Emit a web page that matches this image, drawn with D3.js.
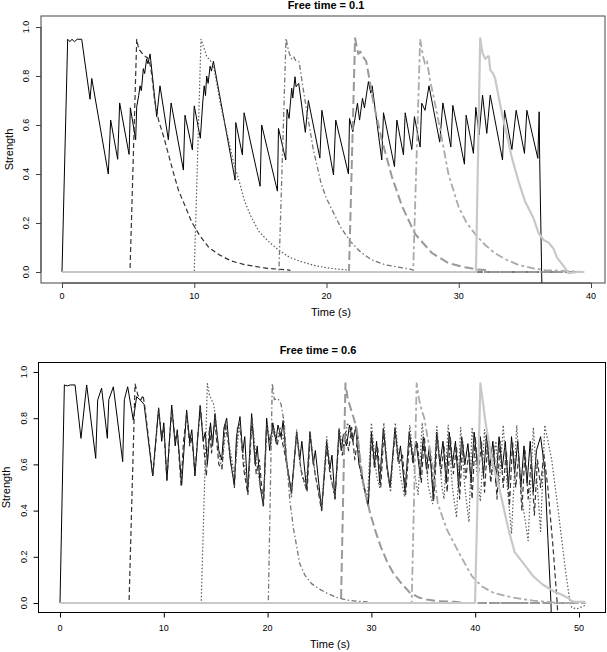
<!DOCTYPE html>
<html><head><meta charset="utf-8">
<script src="https://cdn.jsdelivr.net/npm/d3@7"></script>
<style>body{margin:0;background:#fff}svg{display:block}text{font-family:"Liberation Sans",Arial,Helvetica,sans-serif;fill:#000}</style>
</head><body>
<script>
// ---------------- DATA ----------------
const titles = ["Free time = 0.1", "Free time = 0.6"];
const xLabel = "Time (s)";
const yLabel = "Strength";
const topXTicks = [0, 10, 20, 30, 40];
const botXTicks = [0, 10, 20, 30, 40, 50];
const yTicks = [0, 0.2, 0.4, 0.6, 0.8, 1.0];

// Top panel (free time = 0.1): [time, strength]
const top_s1 = [[0,0],[0.43,0.95],[0.6,0.94],[0.75,0.95],[0.95,0.94],[1.15,0.95],[1.49,0.95],[2.12,0.705],[2.25,0.79],[3.5,0.40],[3.68,0.62],[4.21,0.46],[4.36,0.69],[5.07,0.48],[5.17,0.67],[5.57,0.54],[5.65,0.675],[5.8,0.72],[5.9,0.76],[6.0,0.74],[6.15,0.83],[6.25,0.81],[6.4,0.87],[6.5,0.85],[6.66,0.89],[7.16,0.634],[7.41,0.76],[8.04,0.54],[8.25,0.69],[9.18,0.416],[9.3,0.64],[9.86,0.498],[10.0,0.678],[10.46,0.546],[10.64,0.69],[10.75,0.76],[10.85,0.72],[10.94,0.80],[11.05,0.77],[11.2,0.84],[11.3,0.82],[11.45,0.86],[13.09,0.375],[13.14,0.61],[13.64,0.478],[13.77,0.65],[14.98,0.35],[15.1,0.60],[16.29,0.33],[16.37,0.586],[16.92,0.457],[17.02,0.664],[17.17,0.627],[17.37,0.75],[17.45,0.71],[17.62,0.797],[17.7,0.756],[17.9,0.77],[18.4,0.57],[18.63,0.70],[19.5,0.465],[19.65,0.66],[20.53,0.396],[20.7,0.62],[21.66,0.40],[21.74,0.627],[21.99,0.573],[22.34,0.689],[22.5,0.62],[22.72,0.709],[22.87,0.67],[23.17,0.777],[23.35,0.73],[23.45,0.76],[24.18,0.457],[24.31,0.65],[25.14,0.43],[25.32,0.62],[25.82,0.478],[25.95,0.65],[26.45,0.50],[26.65,0.634],[27.08,0.51],[27.2,0.689],[27.45,0.66],[27.75,0.76],[28.56,0.53],[28.8,0.69],[29.4,0.51],[29.55,0.68],[30.43,0.44],[30.56,0.64],[31.11,0.484],[31.29,0.672],[31.54,0.56],[31.8,0.722],[32.12,0.566],[32.38,0.722],[33.31,0.457],[33.46,0.66],[34.02,0.50],[34.34,0.66],[34.97,0.484],[35.15,0.66],[35.98,0.464],[36.08,0.654],[36.12,0.46],[36.3,-0.1]];
const top_s2 = [[0,0],[5.14,0],[5.65,0.95],[5.8,0.91],[5.95,0.90],[6.1,0.89],[6.3,0.88],[6.45,0.875],[6.6,0.865],[6.8,0.80],[7.0,0.70],[7.3,0.62],[7.7,0.55],[8.0,0.49],[8.4,0.41],[8.8,0.335],[9.3,0.27],[9.8,0.205],[10.4,0.15],[11.1,0.10],[11.9,0.07],[12.8,0.045],[13.8,0.03],[15.5,0.015],[17.2,0.008],[17.3,0],[39.4,0]];
const top_s3 = [[0,0],[10.0,0],[10.51,0.95],[10.7,0.92],[10.94,0.88],[11.1,0.87],[11.25,0.86],[11.45,0.845],[11.6,0.80],[12.0,0.68],[12.46,0.57],[12.96,0.45],[13.4,0.37],[13.8,0.29],[14.3,0.225],[14.9,0.165],[15.6,0.125],[16.3,0.093],[17.2,0.06],[18.1,0.042],[19.0,0.028],[19.9,0.018],[20.8,0.012],[21.7,0.008],[21.8,0],[39.4,0]];
const top_s4 = [[0,0],[16.4,0],[16.94,0.954],[17.1,0.91],[17.2,0.89],[17.35,0.87],[17.5,0.88],[17.7,0.86],[17.93,0.858],[18.2,0.76],[18.5,0.66],[19.0,0.50],[19.6,0.36],[20.0,0.30],[20.5,0.245],[21.1,0.18],[21.8,0.125],[22.6,0.08],[23.4,0.05],[24.4,0.03],[25.4,0.02],[26.5,0.01],[26.6,0],[39.4,0]];
const top_s5 = [[0,0],[21.7,0],[22.16,0.954],[22.4,0.89],[22.55,0.90],[22.75,0.88],[23.0,0.86],[23.17,0.81],[23.55,0.69],[24.18,0.54],[24.94,0.39],[25.7,0.27],[26.7,0.155],[27.96,0.078],[29.22,0.036],[30.48,0.019],[31.4,0.01],[32.0,0.008],[32.1,0],[39.4,0]];
const top_s6 = [[0,0],[26.55,0],[27.08,0.95],[27.3,0.88],[27.45,0.85],[27.6,0.86],[27.84,0.78],[28.1,0.716],[28.6,0.58],[29.22,0.40],[29.98,0.267],[30.6,0.20],[31.24,0.155],[32.0,0.11],[32.75,0.076],[33.6,0.05],[34.52,0.029],[35.65,0.015],[36.5,0.008],[38.5,0.003],[39.4,0]];
const top_s7 = [[0,0],[31.3,0],[31.62,0.954],[31.8,0.893],[32.0,0.87],[32.2,0.88],[32.28,0.88],[32.38,0.824],[32.6,0.81],[32.75,0.79],[33.0,0.72],[33.26,0.648],[33.64,0.56],[34.0,0.47],[34.52,0.37],[35.0,0.29],[35.65,0.22],[36.03,0.16],[36.41,0.131],[36.8,0.12],[37.17,0.095],[37.42,0.06],[37.92,0.025],[38.3,-0.005],[38.6,-0.003],[39.0,0],[39.5,0]];

// Bottom panel (free time = 0.6): [time, strength]
const bot_s1 = [[0,0],[0.42,0.944],[0.7,0.94],[1.0,0.944],[1.45,0.944],[2.02,0.713],[2.57,0.944],[3.44,0.626],[3.63,0.879],[4.01,0.93],[4.56,0.713],[4.7,0.88],[5.14,0.936],[6.04,0.612],[6.2,0.88],[6.52,0.936],[7.06,0.792],[7.38,0.893],[7.7,0.88],[7.9,0.87],[8.1,0.86],[8.93,0.55],[9.5,0.845],[9.8,0.70],[10.0,0.78],[10.3,0.53],[10.76,0.857],[11.1,0.68],[11.3,0.75],[11.72,0.51],[12.2,0.835],[12.5,0.70],[12.7,0.75],[13.0,0.55],[13.5,0.855],[13.8,0.70],[14.0,0.74],[14.2,0.60],[14.5,0.78],[14.7,0.68],[14.93,0.82],[15.3,0.66],[15.58,0.62],[15.8,0.76],[16.06,0.80],[16.4,0.62],[16.8,0.51],[17.0,0.72],[17.34,0.807],[17.6,0.65],[17.8,0.72],[18.08,0.48],[18.46,0.82],[18.8,0.60],[19.0,0.68],[19.3,0.50],[19.59,0.42],[19.91,0.80],[20.2,0.66],[20.5,0.78],[20.8,0.70],[21.0,0.77],[21.3,0.72],[21.5,0.79],[21.8,0.62],[22.3,0.475],[22.8,0.742],[23.1,0.62],[23.3,0.70],[23.76,0.49],[24.08,0.742],[24.4,0.60],[24.6,0.66],[25.21,0.40],[25.69,0.70],[26.0,0.58],[26.2,0.64],[26.49,0.45],[26.88,0.75],[27.1,0.66],[27.3,0.73],[27.6,0.68],[27.9,0.77],[28.2,0.70],[28.5,0.76],[28.8,0.60],[29.1,0.55],[29.7,0.42],[30.0,0.74],[30.3,0.60],[30.5,0.70],[30.8,0.52],[31.15,0.756],[31.5,0.60],[31.8,0.50],[32.27,0.756],[32.6,0.62],[32.8,0.68],[33.24,0.48],[33.65,0.742],[34.0,0.62],[34.3,0.70],[34.7,0.55],[35.0,0.72],[35.3,0.58],[35.6,0.68],[35.96,0.45],[36.3,0.74],[36.6,0.60],[36.9,0.70],[37.2,0.52],[37.5,0.74],[37.8,0.60],[38.1,0.70],[38.4,0.50],[38.7,0.72],[39.0,0.60],[39.3,0.69],[39.6,0.52],[39.9,0.74],[40.2,0.60],[40.5,0.72],[40.8,0.55],[41.1,0.73],[41.4,0.58],[41.7,0.70],[42.0,0.52],[42.3,0.72],[42.6,0.58],[42.9,0.70],[43.2,0.50],[43.5,0.72],[43.8,0.56],[44.1,0.70],[44.4,0.50],[44.7,0.68],[45.0,0.52],[45.3,0.70],[45.6,0.48],[45.9,0.66],[46.3,0.72],[46.7,0.58],[47.0,0.28],[47.3,0.0],[47.35,-0.1]];
const bot_s2 = [[0,0],[6.65,0],[7.23,0.948],[7.5,0.90],[7.8,0.88],[8.0,0.90],[8.2,0.84],[8.95,0.55],[9.2,0.68],[9.5,0.84],[9.8,0.72],[10.0,0.76],[10.3,0.53],[10.6,0.74],[10.8,0.84],[11.1,0.70],[11.3,0.74],[11.66,0.51],[11.9,0.70],[12.2,0.82],[12.5,0.68],[12.7,0.72],[13.0,0.56],[13.3,0.74],[13.55,0.84],[13.9,0.65],[14.1,0.55],[14.4,0.76],[14.6,0.65],[14.9,0.80],[15.3,0.60],[15.6,0.58],[15.9,0.78],[16.2,0.70],[16.5,0.60],[16.8,0.50],[17.1,0.76],[17.4,0.74],[17.7,0.58],[18.1,0.47],[18.5,0.80],[18.9,0.56],[19.2,0.62],[19.6,0.42],[19.9,0.76],[20.2,0.70],[20.5,0.76],[20.9,0.68],[21.2,0.74],[21.6,0.66],[22.0,0.56],[22.3,0.48],[22.8,0.73],[23.2,0.58],[23.8,0.48],[24.1,0.72],[24.5,0.58],[25.2,0.40],[25.7,0.68],[26.0,0.56],[26.5,0.46],[26.9,0.73],[27.2,0.64],[27.5,0.74],[27.8,0.66],[28.1,0.76],[28.4,0.62],[28.7,0.72],[29.0,0.56],[29.7,0.42],[30.0,0.72],[30.3,0.58],[30.6,0.68],[30.9,0.50],[31.2,0.74],[31.5,0.58],[31.8,0.50],[32.3,0.74],[32.6,0.60],[33.0,0.64],[33.3,0.47],[33.7,0.72],[34.0,0.60],[34.4,0.70],[34.8,0.52],[35.1,0.72],[35.4,0.56],[35.7,0.66],[36.0,0.44],[36.35,0.72],[36.7,0.56],[37.0,0.68],[37.3,0.48],[37.6,0.72],[37.9,0.56],[38.2,0.68],[38.5,0.45],[38.8,0.70],[39.1,0.54],[39.4,0.66],[39.7,0.45],[40.0,0.72],[40.3,0.55],[40.6,0.70],[40.9,0.48],[41.2,0.70],[41.5,0.52],[41.8,0.68],[42.1,0.45],[42.4,0.70],[42.7,0.50],[43.0,0.66],[43.3,0.42],[43.6,0.70],[43.9,0.50],[44.2,0.64],[44.5,0.40],[44.8,0.66],[45.1,0.45],[45.4,0.62],[45.7,0.38],[46.0,0.62],[46.3,0.50],[46.6,0.65],[47.0,0.50],[47.5,0.24],[47.9,0.0],[48.0,-0.1]];
const bot_s3 = [[0,0],[13.6,0],[14.2,0.95],[14.4,0.90],[14.6,0.88],[14.8,0.86],[15.0,0.80],[15.3,0.65],[15.6,0.58],[16.0,0.78],[16.4,0.66],[16.8,0.55],[17.3,0.78],[17.7,0.62],[18.1,0.50],[18.5,0.80],[18.9,0.62],[19.3,0.50],[19.6,0.44],[19.95,0.78],[20.3,0.68],[20.6,0.76],[20.9,0.70],[21.2,0.76],[21.5,0.72],[21.8,0.62],[22.3,0.46],[22.8,0.75],[23.3,0.55],[23.7,0.50],[24.1,0.74],[24.6,0.55],[25.2,0.42],[25.7,0.72],[26.1,0.55],[26.5,0.45],[26.9,0.76],[27.3,0.65],[27.7,0.78],[28.2,0.70],[28.5,0.77],[29.0,0.55],[29.6,0.43],[30.0,0.78],[30.5,0.55],[30.8,0.50],[31.2,0.78],[31.6,0.55],[31.85,0.48],[32.3,0.78],[32.8,0.55],[33.2,0.46],[33.7,0.77],[34.2,0.55],[34.5,0.47],[34.9,0.78],[35.5,0.50],[35.9,0.43],[36.3,0.77],[36.8,0.50],[37.0,0.45],[37.4,0.77],[37.8,0.50],[38.2,0.37],[38.6,0.76],[39.0,0.50],[39.4,0.35],[39.7,0.76],[40.2,0.55],[40.5,0.44],[40.9,0.75],[41.3,0.60],[41.6,0.55],[42.0,0.70],[42.3,0.50],[42.7,0.77],[43.1,0.50],[43.5,0.30],[44.0,0.77],[44.5,0.45],[45.1,0.27],[45.6,0.76],[46.0,0.50],[46.3,0.31],[46.7,0.77],[47.37,0.62],[48.0,0.40],[48.65,0.157],[49.1,0.013],[49.3,-0.02],[49.8,-0.025],[50.6,-0.01]];
const bot_s4 = [[0,0],[20.07,0],[20.45,0.95],[20.65,0.88],[21.0,0.885],[21.3,0.86],[21.6,0.78],[21.9,0.58],[22.15,0.44],[22.5,0.32],[23.1,0.17],[23.6,0.12],[24.2,0.085],[25.0,0.06],[25.7,0.043],[26.6,0.025],[27.6,0.013],[28.6,0.008],[29.6,0.005],[29.7,0],[50.6,0]];
const bot_s5 = [[0,0],[27.07,0],[27.5,0.951],[27.7,0.89],[27.95,0.85],[28.3,0.80],[28.6,0.75],[28.9,0.63],[29.22,0.52],[29.87,0.39],[30.4,0.31],[30.9,0.244],[31.5,0.18],[32.1,0.13],[32.8,0.09],[33.7,0.045],[34.5,0.025],[35.3,0.015],[36.5,0.008],[38.0,0.005],[39.0,0],[50.6,0]];
const bot_s6 = [[0,0],[33.88,0],[34.36,0.951],[34.6,0.88],[34.84,0.835],[35.1,0.80],[35.4,0.72],[35.97,0.58],[36.4,0.43],[37.25,0.32],[38.4,0.22],[39.7,0.115],[40.7,0.07],[41.8,0.043],[43.7,0.023],[45.6,0.01],[47.0,0.005],[48.0,0],[50.6,0]];
const bot_s7 = [[0,0],[39.98,0],[40.5,0.951],[40.8,0.85],[41.0,0.78],[41.6,0.62],[42.3,0.50],[43.2,0.32],[43.8,0.22],[44.5,0.18],[45.6,0.115],[46.5,0.08],[47.6,0.05],[48.4,0.035],[49.0,0.02],[49.3,0.008],[49.6,0.005],[50.6,0.005]];

// ---------------- DRAWING ----------------
const W = 607, H = 652;
const svg = d3.select("body").append("svg").attr("width", W).attr("height", H);

const seriesStyle = [
  {color: "#000000", w: 1.0, dash: null},
  {color: "#333333", w: 1.2, dash: "5,3"},
  {color: "#5a5a5a", w: 1.2, dash: "1.5,2"},
  {color: "#777777", w: 1.3, dash: "1.5,2.5,5,2.5"},
  {color: "#999999", w: 2.0, dash: "9,4"},
  {color: "#aaaaaa", w: 1.8, dash: "3,3,8,3"},
  {color: "#c8c8c8", w: 2.2, dash: null}
];

const panels = [
  {id: "p1", title: titles[0], series: [top_s1, top_s2, top_s3, top_s4, top_s5, top_s6, top_s7],
   xTicks: topXTicks, xDom: [0, 40], xRange: [62, 591], yRange: [272, 27],
   box: {x0: 41, x1: 605, y0: 16, y1: 283}, boxColor: "#444",
   titleY: 9, titleX: 326, tickLabY: 299, xLabY: 316, yTickX: 26, yLabX: 9},
  {id: "p2", title: titles[1], series: [bot_s1, bot_s2, bot_s3, bot_s4, bot_s5, bot_s6, bot_s7],
   xTicks: botXTicks, xDom: [0, 50], xRange: [60, 579], yRange: [603, 372],
   box: {x0: 38.5, x1: 605.5, y0: 362.5, y1: 612.5}, boxColor: "#000",
   titleY: 354, titleX: 318, tickLabY: 631, xLabY: 648, yTickX: 23.5, yLabX: 6}
];

panels.forEach(p => {
  const x = d3.scaleLinear().domain(p.xDom).range(p.xRange);
  const y = d3.scaleLinear().domain([0, 1]).range(p.yRange);
  const g = svg.append("g");
  const b = p.box;

  g.append("clipPath").attr("id", "clip-" + p.id)
    .append("rect").attr("x", b.x0).attr("y", b.y0)
    .attr("width", b.x1 - b.x0).attr("height", b.y1 - b.y0);

  const line = d3.line().x(d => x(d[0])).y(d => y(d[1]));
  const lg = g.append("g").attr("clip-path", `url(#clip-${p.id})`);
  p.series.forEach((s, i) => {
    const st = seriesStyle[i];
    lg.append("path").datum(s).attr("d", line)
      .attr("fill", "none").attr("stroke", st.color)
      .attr("stroke-width", st.w)
      .attr("stroke-linejoin", "round")
      .attr("stroke-dasharray", st.dash);
  });

  // box
  g.append("rect").attr("x", b.x0).attr("y", b.y0)
    .attr("width", b.x1 - b.x0).attr("height", b.y1 - b.y0)
    .attr("fill", "none").attr("stroke", p.boxColor).attr("stroke-width", 1);

  // x axis
  const xa = g.append("g").attr("transform", `translate(0,${b.y1})`)
    .call(d3.axisBottom(x).tickValues(p.xTicks).tickSize(5).tickFormat(d3.format("d")));
  xa.select(".domain").attr("d", `M${x(p.xTicks[0])},0H${x(p.xTicks[p.xTicks.length - 1])}`).attr("stroke", p.boxColor);
  xa.selectAll(".tick line").attr("stroke", p.boxColor);
  xa.selectAll(".tick text").remove();
  g.selectAll(".xlab-" + p.id).data(p.xTicks).enter().append("text")
    .attr("x", d => x(d)).attr("y", p.tickLabY)
    .attr("text-anchor", "middle").attr("font-size", 9).text(d => d);

  // y axis
  const ya = g.append("g").attr("transform", `translate(${b.x0},0)`)
    .call(d3.axisLeft(y).tickValues(yTicks).tickSize(5).tickFormat(d3.format(".1f")));
  ya.select(".domain").attr("d", `M0,${y(0)}V${y(1)}`).attr("stroke", p.boxColor);
  ya.selectAll(".tick line").attr("stroke", p.boxColor);
  ya.selectAll(".tick text").remove();
  g.selectAll(".ylab-" + p.id).data(yTicks).enter().append("text")
    .attr("transform", d => `translate(${p.yTickX},${y(d)}) rotate(-90)`)
    .attr("text-anchor", "middle").attr("dominant-baseline", "central")
    .attr("font-size", 9).text(d => d3.format(".1f")(d));

  // titles & labels
  g.append("text").attr("x", p.titleX).attr("y", p.titleY)
    .attr("text-anchor", "middle").attr("font-size", 11).attr("font-weight", "bold").text(p.title);
  g.append("text").attr("x", (b.x0 + b.x1) / 2 + 8).attr("y", p.xLabY)
    .attr("text-anchor", "middle").attr("font-size", 11).text(xLabel);
  g.append("text")
    .attr("transform", `translate(${p.yLabX},${(b.y0 + b.y1) / 2}) rotate(-90)`)
    .attr("text-anchor", "middle").attr("dominant-baseline", "central")
    .attr("font-size", 11).text(yLabel);
});
</script>
</body></html>
